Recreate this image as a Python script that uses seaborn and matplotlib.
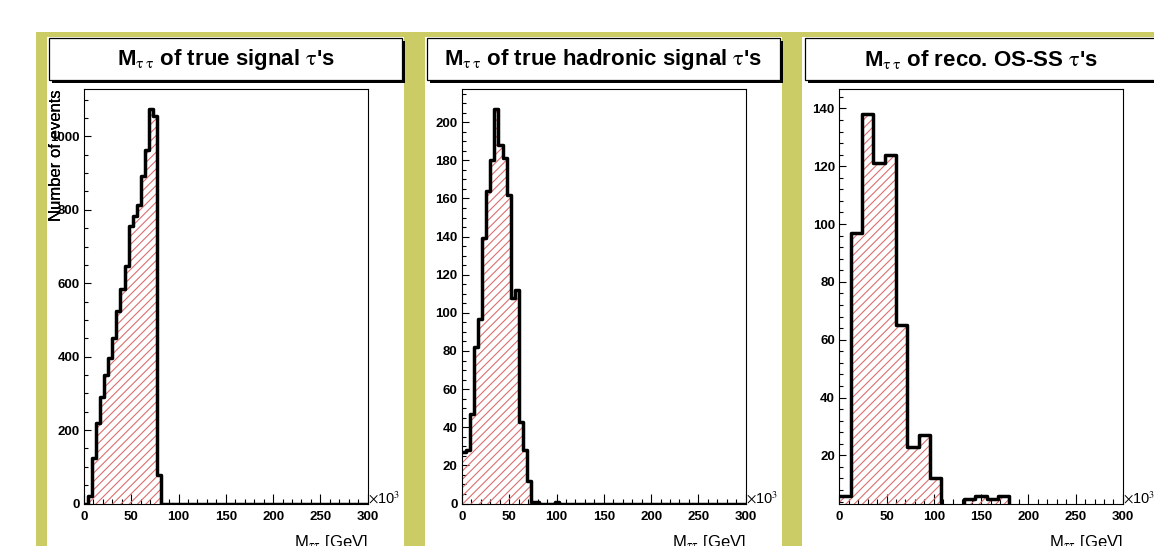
import numpy as np
import pandas as pd
import matplotlib
matplotlib.use("Agg")
import matplotlib.pyplot as plt
import seaborn as sns
from matplotlib.patches import Rectangle
from matplotlib.ticker import MultipleLocator

# ---------------- data ----------------
titles = [
    r"M$_{\mathrm{\tau}\,\mathrm{\tau}}$ of true signal $\mathrm{\tau}$'s",
    r"M$_{\mathrm{\tau}\,\mathrm{\tau}}$ of true hadronic signal $\mathrm{\tau}$'s",
    r"M$_{\mathrm{\tau}\,\mathrm{\tau}}$ of reco. OS-SS $\mathrm{\tau}$'s",
]
x_min, x_max = 0, 300          # in units of 10^3 (GeV)
n_bins = [70, 70, 25]

counts_true_signal = [0, 20, 125, 218, 289, 350, 395, 450, 525, 585, 648, 756,
                      784, 814, 891, 964, 1075, 1055, 77]
counts_true_hadronic = [27, 28, 47, 82, 97, 139, 164, 180, 207, 188, 181, 162,
                        108, 112, 43, 28, 12, 1, 1, 0, 0, 0, 0, 1]
counts_reco_os_ss = [6, 97, 138, 121, 124, 65, 23, 27, 12, 0, 0, 5, 6, 5, 6]

y_limits = [(0, 1129), (0, 217.4), (3.35, 146.7)]
y_major = [200, 20, 20]
y_minor = [50, 5, 4]

x_label = r"M$_{\mathrm{\tau}\mathrm{\tau}}$ [GeV]"
y_label = "Number of events"
x_mult = r"$\times$10$^{3}$"

# ---------------- style ----------------
sns.set_theme(style="ticks")
plt.rcParams["font.family"] = ["Liberation Sans", "DejaVu Sans"]
plt.rcParams["mathtext.fontset"] = "stix"
plt.rcParams["hatch.linewidth"] = 0.8
plt.rcParams["text.color"] = "black"
plt.rcParams["axes.labelcolor"] = "black"

W, H = 1154, 546
fig = plt.figure(figsize=(W / 100, H / 100), dpi=100)
fig.patch.set_facecolor("white")

olive = "#cccc66"
hatch_col = "#dd6e6e"


def fx(px):
    return px / W


def fy(py):
    return 1 - py / H


def frect(x0, y0, x1, y1, **kw):
    r = Rectangle((fx(x0), fy(y1)), fx(x1) - fx(x0), fy(y0) - fy(y1),
                  transform=fig.transFigure, **kw)
    fig.patches.append(r)
    return r


# olive background
frect(36, 32, W + 5, H + 5, facecolor=olive, edgecolor="none", zorder=0)

pad_lefts = [46.7, 424.7, 802.0]
pad_w = 357.5
ax_off = 37.3
ax_w = 283.6
ax_top, ax_bot = 89.0, 503.5

all_counts = [counts_true_signal, counts_true_hadronic, counts_reco_os_ss]

for i in range(3):
    pl = pad_lefts[i]
    # pad
    frect(pl, 36.7, pl + pad_w, H + 5, facecolor="white", edgecolor="none", zorder=0.5)
    # title box with shadow
    bx0, by0, bx1, by1 = pl + 2.6, 38.3, pl + 2.6 + 352.4, 79.5
    frect(bx0 + 3, by0 + 3, bx1 + 3, by1 + 3, facecolor="black",
          edgecolor="none", zorder=1)
    frect(bx0, by0, bx1, by1, facecolor="white", edgecolor="black",
          linewidth=0.9, zorder=2)
    fig.text(fx((bx0 + bx1) / 2), fy(59.5), titles[i], ha="center", va="center",
             fontsize=16, fontweight="bold", color="black", zorder=3)

    # axes
    left = pl + ax_off
    ax = fig.add_axes([fx(left), fy(ax_bot), ax_w / W, (ax_bot - ax_top) / H])
    ax.set_facecolor("none")
    ax.set_zorder(2)

    nb = n_bins[i]
    edges = np.linspace(x_min, x_max, nb + 1)
    width = edges[1] - edges[0]
    counts = np.zeros(nb)
    counts[:len(all_counts[i])] = all_counts[i]
    df = pd.DataFrame({"mass": edges[:-1] + width / 2, "events": counts})
    bin_list = list(edges)

    sns.histplot(data=df, x="mass", weights="events", bins=bin_list,
                 element="step", fill=True, color=hatch_col, hatch="////",
                 facecolor="none", edgecolor=hatch_col, linewidth=0, ax=ax)
    sns.histplot(data=df, x="mass", weights="events", bins=bin_list,
                 element="step", fill=False, color="black", linewidth=2.5,
                 ax=ax)

    ax.set_xlim(x_min, x_max)
    ax.set_ylim(*y_limits[i])
    ax.xaxis.set_major_locator(MultipleLocator(50))
    ax.xaxis.set_minor_locator(MultipleLocator(10))
    ax.yaxis.set_major_locator(MultipleLocator(y_major[i]))
    ax.yaxis.set_minor_locator(MultipleLocator(y_minor[i]))

    for s in ax.spines.values():
        s.set_visible(True)
        s.set_color("black")
        s.set_linewidth(0.8)

    ax.tick_params(axis="both", which="both", direction="in", top=False,
                   right=False, width=0.8, colors="black", labelsize=9.5)
    ax.tick_params(axis="x", which="major", length=7.5, pad=5.5)
    ax.tick_params(axis="x", which="minor", length=3.5)
    ax.tick_params(axis="y", which="major", length=5, pad=3.2)
    ax.tick_params(axis="y", which="minor", length=3)
    for lab in ax.get_xticklabels() + ax.get_yticklabels():
        lab.set_fontweight("bold")

    ax.set_xlabel("")
    ax.set_ylabel(y_label, fontsize=12, loc="top", color="black")
    ax.yaxis.set_label_coords((64 - left) / ax_w, 1.0)

    ax.text(1.002, 0.0, x_mult, transform=ax.transAxes, ha="left",
            va="baseline", fontsize=10.5, color="black")
    fig.text(fx(left + ax_w), fy(547), x_label, ha="right", va="baseline",
             fontsize=12, color="black")

fig.savefig("out.png", dpi=100)
